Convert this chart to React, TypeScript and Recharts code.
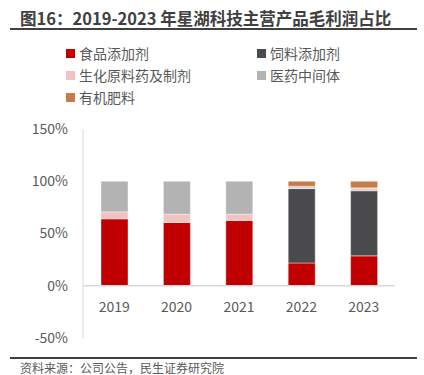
import { BarChart, Bar, XAxis, YAxis, ReferenceLine } from "recharts";

const years = ["2019", "2020", "2021", "2022", "2023"];
const foodAdditive = [64.0, 60.5, 62.4, 21.8, 28.6];
const feedAdditive = [0, 0, 0, 71.2, 62.3];
const bioPharma = [6.7, 8.0, 6.1, 0.8, 2.3];
const pharmaInter = [29.3, 31.5, 31.5, 1.4, 0.5];
const fertilizer = [0, 0, 0, 4.8, 6.3];
const yTicks = [-50, 0, 50, 100, 150];

const series = [
  { key: "food", name: "食品添加剂", color: "#C00000" },
  { key: "feed", name: "饲料添加剂", color: "#4B4B4D" },
  { key: "bio", name: "生化原料药及制剂", color: "#F0C2C2" },
  { key: "pharma", name: "医药中间体", color: "#B3B3B3" },
  { key: "fert", name: "有机肥料", color: "#C47C48" },
];

const data = years.map((year, i) => ({
  year,
  food: foodAdditive[i],
  feed: feedAdditive[i],
  bio: bioPharma[i],
  pharma: pharmaInter[i],
  fert: fertilizer[i],
}));

const FONT = '"Noto Sans CJK SC", "Noto Sans", sans-serif';
const TEXT = "#595959";

function LegendBox() {
  return (
    <div
      style={{
        position: "absolute",
        left: 66,
        top: 43,
        display: "grid",
        gridTemplateColumns: "191px 160px",
        rowGap: 2,
        fontFamily: FONT,
        fontSize: 14,
        color: TEXT,
        lineHeight: "20px",
      }}
    >
      {series.map((s) => (
        <div key={s.key} style={{ display: "flex", alignItems: "center" }}>
          <span style={{ width: 9, height: 9, background: s.color, marginRight: 4, display: "inline-block" }} />
          {s.name}
        </div>
      ))}
    </div>
  );
}

export default function App() {
  return (
    <div style={{ position: "absolute", left: 0, top: 0, width: 424, height: 375, background: "#fff", fontFamily: FONT }}>
      <div
        style={{
          position: "absolute",
          left: 20,
          top: 8,
          fontSize: 16.5,
          fontWeight: "bold",
          color: "#404040",
          whiteSpace: "nowrap",
          lineHeight: "20px",
        }}
      >
        图16：2019-2023 年星湖科技主营产品毛利润占比
      </div>
      <div style={{ position: "absolute", left: 10, top: 28, width: 407, height: 1.5, background: "#404040" }} />

      <div style={{ position: "absolute", left: 0, top: 0 }}>
        <BarChart width={424} height={375} data={data} margin={{ top: 129, right: 29, bottom: 7, left: 23 }} barSize={27}>
          <YAxis
            domain={[-50, 150]}
            ticks={yTicks}
            width={60}
            tickFormatter={(v) => `${v}%`}
            tickLine={false}
            tickMargin={9}
            axisLine={{ stroke: "#D9D9D9" }}
            tick={{ fill: TEXT, fontSize: 14, fontFamily: FONT }}
            interval={0}
          />
          <XAxis
            dataKey="year"
            height={30}
            axisLine={false}
            tickLine={false}
            tick={{ fill: TEXT, fontSize: 14, fontFamily: FONT, dy: -44 }}
          />
          <ReferenceLine y={0} stroke="#D9D9D9" strokeWidth={1.5} />
          {series.map((s) => (
            <Bar
              key={s.key}
              dataKey={s.key}
              name={s.name}
              stackId="a"
              fill={s.color}
              stroke="#FFFFFF"
              strokeWidth={0.4}
              isAnimationActive={false}
            />
          ))}
        </BarChart>
      </div>

      <LegendBox />

      <div style={{ position: "absolute", left: 10, top: 357, width: 407, height: 1.5, background: "#404040" }} />
      <div style={{ position: "absolute", left: 20, top: 360, fontSize: 12, color: TEXT, whiteSpace: "nowrap", lineHeight: "16px" }}>
        资料来源：公司公告，民生证券研究院
      </div>
    </div>
  );
}
